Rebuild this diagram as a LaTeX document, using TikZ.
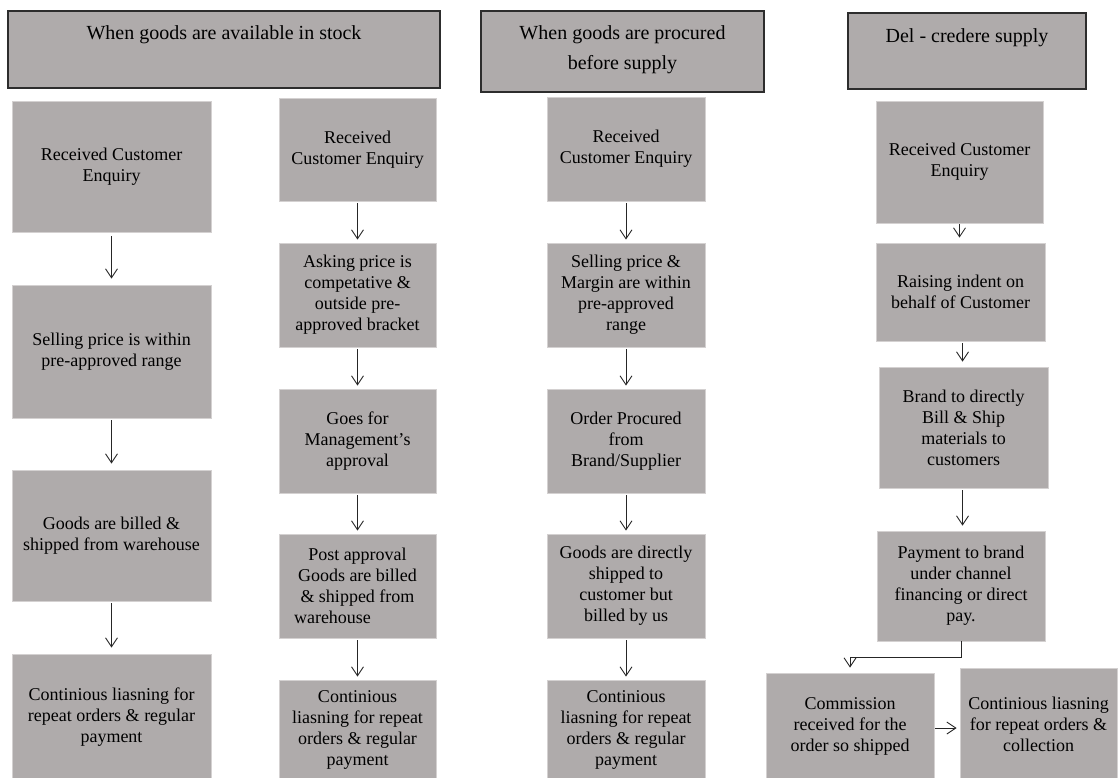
\documentclass[tikz,border=0pt]{standalone}
\usepackage{fontspec}
\setmainfont{Liberation Serif}
\usetikzlibrary{arrows.meta,calc}
\definecolor{boxgray}{RGB}{175,171,171}
\definecolor{edgegray}{RGB}{212,209,209}
\definecolor{hdredge}{RGB}{45,45,45}
\begin{document}
\begin{tikzpicture}[x=1pt,y=-1pt,
  box/.style={rectangle,fill=boxgray,draw=edgegray,line width=0.8pt,inner sep=0pt,align=center,font=\fontsize{18}{21}\selectfont},
  hdr/.style={rectangle,fill=boxgray,draw=hdredge,line width=1.5pt,inner sep=0pt},
  hdrtext/.style={font=\fontsize{20}{30}\selectfont,align=center,anchor=base,inner sep=0pt},
  arr/.style={-{Straight Barb[length=9pt,width=12pt]},line width=0.9pt,black!85}]
\useasboundingbox (0,0) rectangle (1118,778);

% headers
\node[hdr,minimum width=432pt,minimum height=77pt] (h1) at (224,49.5) {};
\node[hdrtext] (h1t) at (224,39.5) {When goods are available in stock};
\node[hdr,minimum width=283pt,minimum height=81pt] (h2) at (622.5,51.5) {};
\node[hdrtext] (h2t) at (622.5,70) {When goods are procured\\before supply};
\node[hdr,minimum width=238pt,minimum height=76pt] (h3) at (967,51) {};
\node[hdrtext] (h3t) at (967,43) {Del - credere supply};

% column 1
\node[box,minimum width=199pt,minimum height=131pt] (c1a) at (111.5,166.5) {Received Customer\\Enquiry};
\node[box,minimum width=199pt,minimum height=133pt] (c1b) at (111.5,351.5) {Selling price is within\\pre-approved range};
\node[box,minimum width=199pt,minimum height=131pt] (c1c) at (111.5,535.5) {Goods are billed \&\\shipped from warehouse};
\node[box,minimum width=199pt,minimum height=126pt] (c1d) at (111.5,717) {Continious liasning for\\repeat orders \& regular\\payment};

% column 2
\node[box,minimum width=157pt,minimum height=103pt] (c2a) at (357.5,149.5) {Received\\Customer Enquiry};
\node[box,minimum width=157pt,minimum height=104pt] (c2b) at (357.5,295) {Asking price is\\competative \&\\outside pre-\\approved bracket};
\node[box,minimum width=157pt,minimum height=104pt] (c2c) at (357.5,441) {Goes for\\Management's\\approval};
\node[box,minimum width=157pt,minimum height=104pt] (c2d) at (357.5,586) {Post approval\\Goods are billed\\\& shipped from\\warehouse\hspace*{50pt}};
\node[box,minimum width=157pt,minimum height=100pt] (c2e) at (357.5,730) {Continious\\liasning for repeat\\orders \& regular\\payment};

% column 3
\node[box,minimum width=158pt,minimum height=104pt] (c3a) at (626,149) {Received\\Customer Enquiry};
\node[box,minimum width=158pt,minimum height=104pt] (c3b) at (626,295) {Selling price \&\\Margin are within\\pre-approved\\range};
\node[box,minimum width=158pt,minimum height=104pt] (c3c) at (626,441) {Order Procured\\from\\Brand/Supplier};
\node[box,minimum width=158pt,minimum height=104pt] (c3d) at (626,586) {Goods are directly\\shipped to\\customer but\\billed by us};
\node[box,minimum width=158pt,minimum height=100pt] (c3e) at (626,730) {Continious\\liasning for repeat\\orders \& regular\\payment};

% column 4
\node[box,minimum width=167pt,minimum height=122pt] (c4a) at (959.5,162) {Received Customer\\Enquiry};
\node[box,minimum width=169pt,minimum height=98pt] (c4b) at (960.5,292) {Raising indent on\\behalf of Customer};
\node[box,minimum width=169pt,minimum height=121pt] (c4c) at (963.5,427.5) {Brand to directly\\Bill \& Ship\\materials to\\customers};
\node[box,minimum width=168pt,minimum height=110pt] (c4d) at (961,586) {Payment to brand\\under channel\\financing or direct\\pay.};
\node[box,minimum width=168pt,minimum height=107pt] (c4e) at (850,726.5) {Commission\\received for the\\order so shipped};
\node[box,minimum width=157pt,minimum height=112pt] (c4f) at (1038.5,724) {Continious liasning\\for repeat orders \&\\collection};

% arrows column 1
\draw[arr,shorten <=4pt,shorten >=6pt] (c1a) -- (c1b);
\draw[arr,shorten <=2pt,shorten >=6pt] (c1b) -- (c1c);
\draw[arr,shorten <=2pt,shorten >=6pt] (c1c) -- (c1d);
% arrows column 2
\draw[arr,shorten <=2pt,shorten >=3pt] (c2a) -- (c2b);
\draw[arr,shorten <=2pt,shorten >=3pt] (c2b) -- (c2c);
\draw[arr,shorten <=2pt,shorten >=3pt] (c2c) -- (c2d);
\draw[arr,shorten <=2pt,shorten >=3pt] (c2d) -- (c2e);
% arrows column 3
\draw[arr,shorten <=2pt,shorten >=3pt] (c3a) -- (c3b);
\draw[arr,shorten <=2pt,shorten >=3pt] (c3b) -- (c3c);
\draw[arr,shorten <=2pt,shorten >=3pt] (c3c) -- (c3d);
\draw[arr,shorten <=2pt,shorten >=3pt] (c3d) -- (c3e);
% arrows column 4
\draw[arr,shorten <=1pt,shorten >=5pt] (c4a.south) -- (c4a.south |- c4b.north);
\draw[arr,shorten <=2pt,shorten >=5pt] ([xshift=2pt]c4b.south) -- ([xshift=2pt]c4b.south |- c4c.north);
\draw[arr,shorten <=2pt,shorten >=5pt] ([xshift=-1pt]c4c.south) -- ([xshift=-1pt]c4c.south |- c4d.north);
\coordinate (k1) at (961,657);
\draw[arr] (c4d.south) -- (c4d.south |- k1) -| ([yshift=5pt]c4e.north);
\coordinate (k2) at ($(c4e.east)+(1,1.5)$);
\draw[arr,shorten >=3pt] (k2) -- (c4f.west |- k2);
\end{tikzpicture}
\end{document}
